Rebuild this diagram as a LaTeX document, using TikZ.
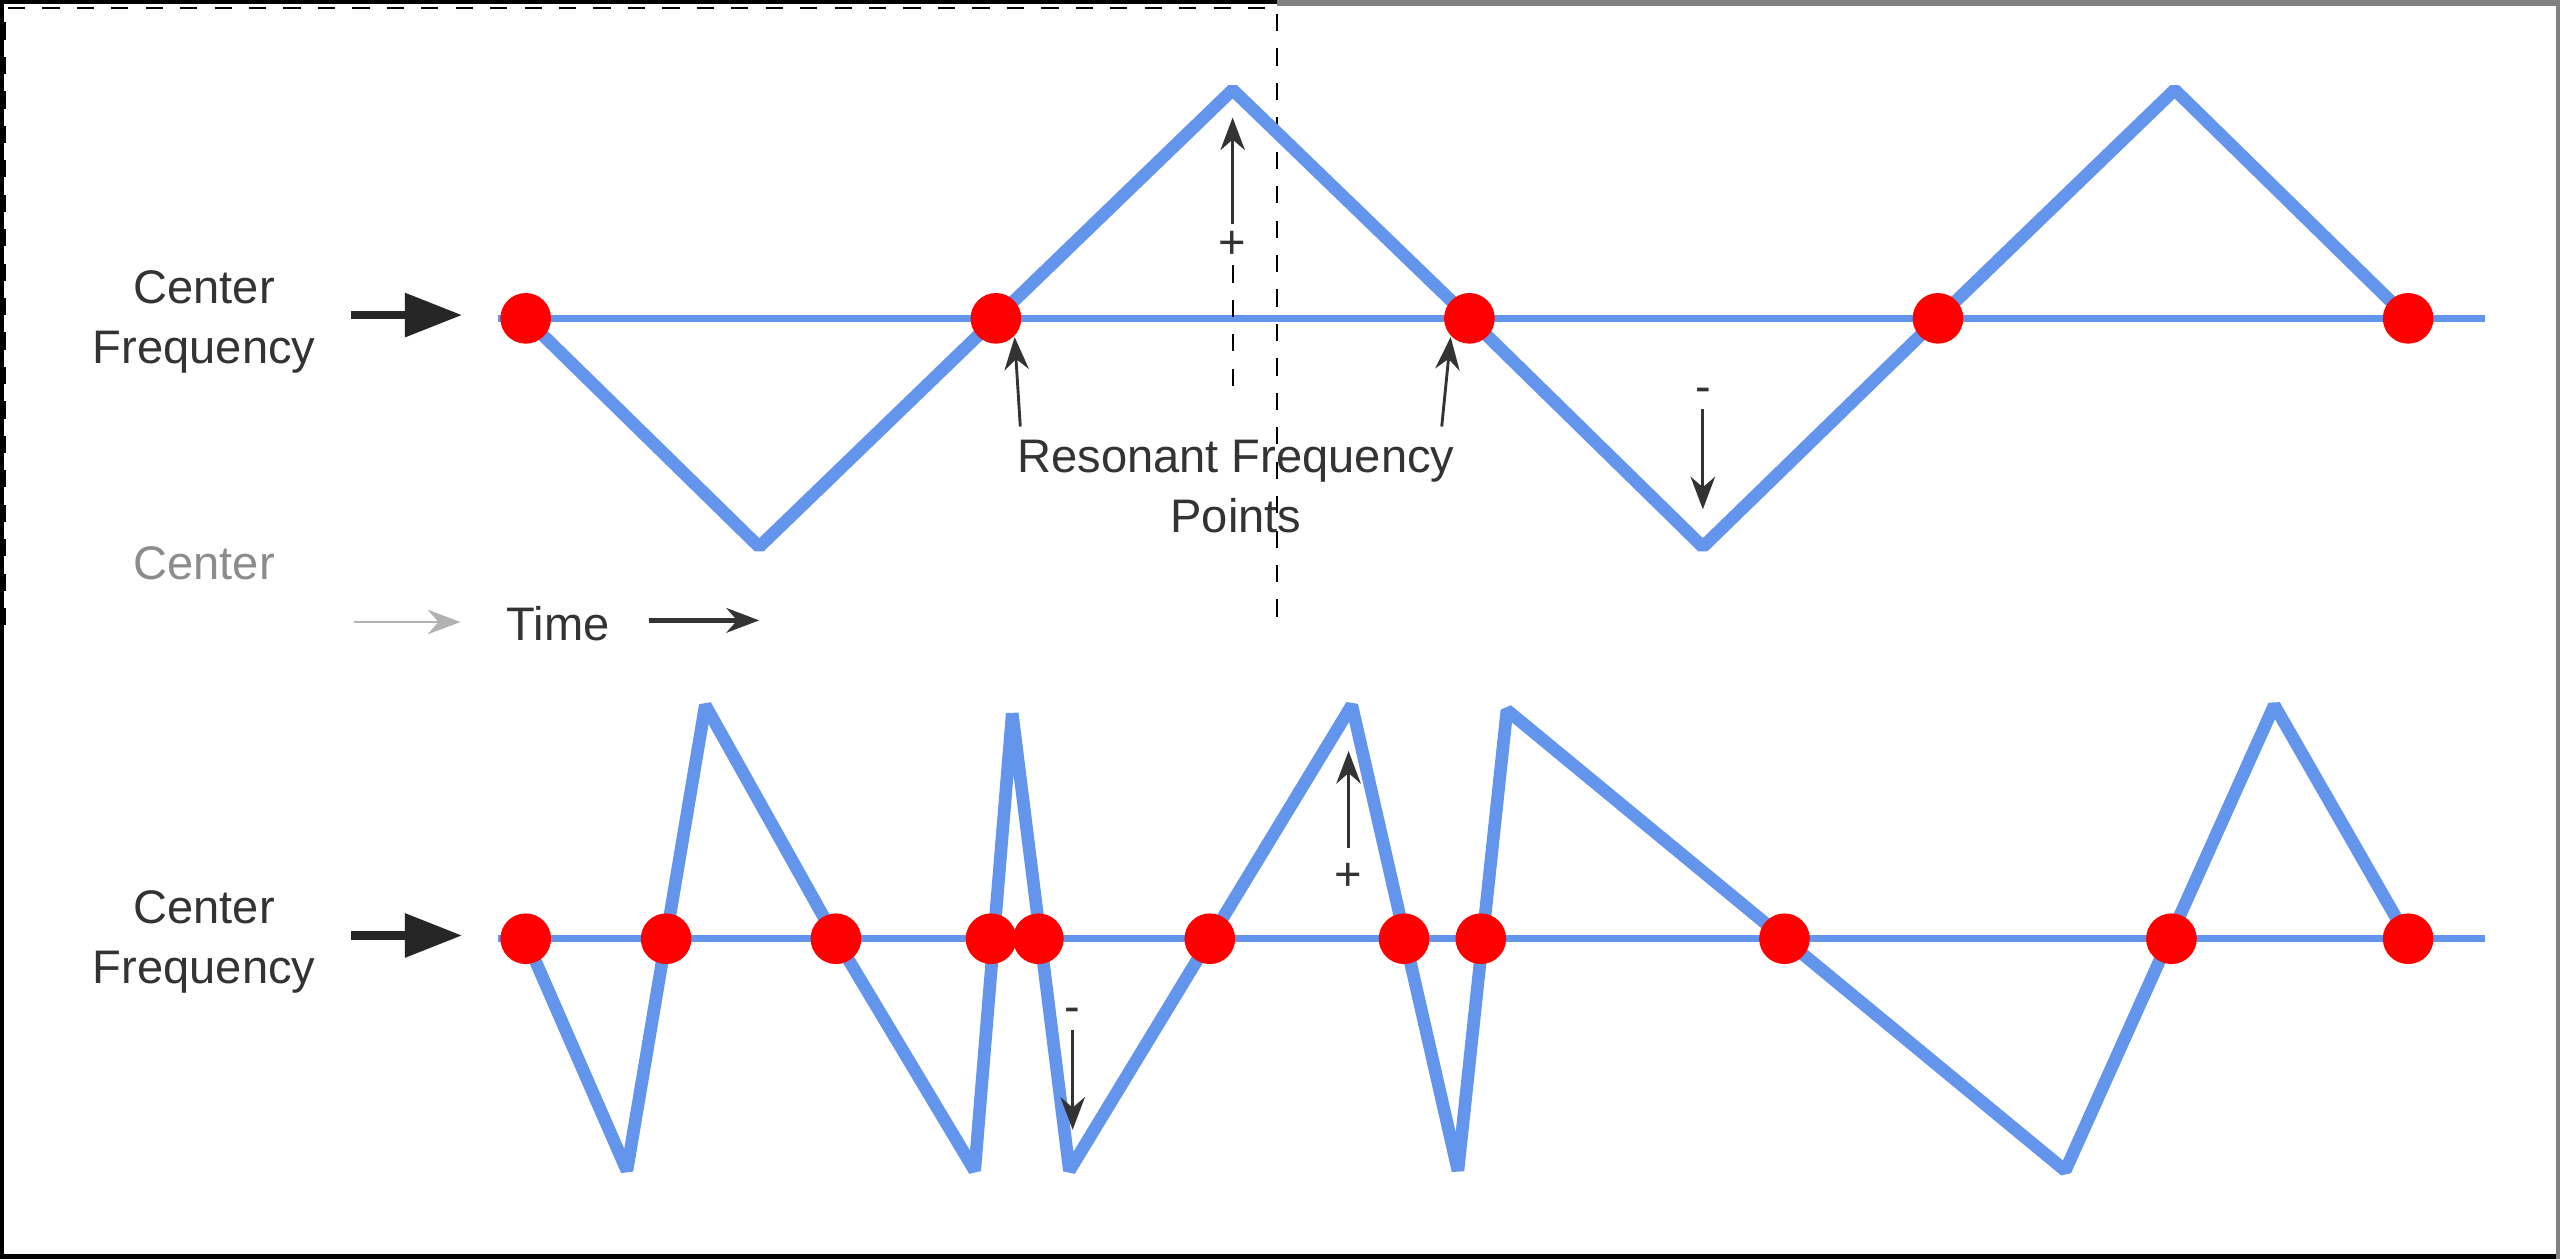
\documentclass[tikz,border=0pt]{standalone}
\usepackage{fontspec}
\setmainfont{Liberation Sans}
\usetikzlibrary{positioning,calc,arrows.meta}
\definecolor{wave}{RGB}{100,149,237}
\tikzset{
  figfont/.style={font=\fontsize{8.2}{10.5}\selectfont},
  figlabel/.style={align=center, inner sep=1pt, text=black!80},
  figwave/.style={wave, line width=2.2pt, line join=bevel},
  figaxis/.style={wave, line width=1.2pt},
  figdot/.style={circle, fill=red, inner sep=0pt, minimum size=3.1mm},
  figarrow/.style={-{Stealth[length=2mm]}, line width=0.5pt, black!80},
  figarrowbig/.style={-{Triangle[length=3.5mm, width=2.6mm]}, line width=1.4pt, black!85},
}
\begin{document}
\begin{tikzpicture}[figfont, x=0.01cm, y=-0.01cm]
  \useasboundingbox (0,0) rectangle (1568,771);
  \fill[white] (0,0) rectangle (1568,771);
  \draw[black, line width=1.5pt] (0,0) rectangle (1568,771);
  \draw[gray, line width=1.5pt] (782,1) -- (1568,1) -- (1568,771);
  \draw[dashed, line width=0.4pt] (3,383) -- (3,5) -- (782,5) -- (782,383);

  % Top panel: regular sweep
  \draw[figaxis] (305,195) -- (1522,195);
  \draw[figwave] (322,195) -- (465,335) -- (610,195) -- (755,55) -- (900,195)
    -- (1043,335) -- (1187,195) -- (1332,55) -- (1475,195);
  \foreach \x/\n in {322/a,610/b,900/c,1187/d,1475/e}
    \node[figdot] (t\n) at (\x,195) {};

  \node[figlabel] (cf1) at (125,197) {Center\\Frequency};
  \coordinate (cf1a) at (215,193);
  \coordinate (cf1b) at (283,193);
  \draw[figarrowbig] (cf1a) -- (cf1b);

  \node[figlabel] (plus1) at (755,150) {+};
  \coordinate (plus1top) at (755,72);
  \draw[figarrow] (plus1.north) -- (plus1top);
  \coordinate (plus1low) at (755,240);
  \draw[dashed, line width=0.4pt] (plus1.south) -- (plus1low);
  \node[figlabel] (minus1) at (1043,242) {-};
  \coordinate (minus1low) at (1043,312);
  \draw[figarrow] (minus1.south) -- (minus1low);

  \node[figlabel] (res) at (757,298) {Resonant Frequency\\Points};
  \draw[figarrow] (res.north west) ++(6,-4) coordinate (resl) (resl) -- (tb.south east);
  \draw[figarrow] (res.north east) ++(-12,-4) coordinate (resr) (resr) -- (tc.south west);

  \node[figlabel, text=black!45] (ghost) at (125,345) {Center};
  \coordinate (ghosta) at (217,381);
  \coordinate (ghostb) at (282,381);
  \draw[figarrow, black!30] (ghosta) -- (ghostb);
  \node[figlabel] (time) at (342,382) {Time};
  \coordinate (timeend) at (465,380);
  \draw[figarrow, line width=0.9pt] (time.east) ++(20,-2) coordinate (times) (times) -- (timeend);

  % Bottom panel: irregular sweep
  \draw[figaxis] (305,575) -- (1522,575);
  \draw[figwave] (322,575) -- (384,717) -- (432,432) -- (512,575) -- (597,717)
    -- (620,437) -- (655,717) -- (828,432) -- (893,717) -- (923,435)
    -- (1265,717) -- (1393,432) -- (1475,575);
  \foreach \x/\n in {322/a,408/b,512/c,607/d,636/e,741/f,860/g,907/h,1093/i,1330/j,1475/k}
    \node[figdot] (b\n) at (\x,575) {};

  \node[figlabel] (cf2) at (125,577) {Center\\Frequency};
  \coordinate (cf2a) at (215,573);
  \coordinate (cf2b) at (283,573);
  \draw[figarrowbig] (cf2a) -- (cf2b);

  \node[figlabel] (plus2) at (826,537) {+};
  \coordinate (plus2top) at (826,460);
  \draw[figarrow] (plus2.north) ++(0,-5) coordinate (plus2s) (plus2s) -- (plus2top);
  \node[figlabel] (minus2) at (657,622) {-};
  \coordinate (minus2low) at (657,692);
  \draw[figarrow] (minus2.south) -- (minus2low);
\end{tikzpicture}
\end{document}
